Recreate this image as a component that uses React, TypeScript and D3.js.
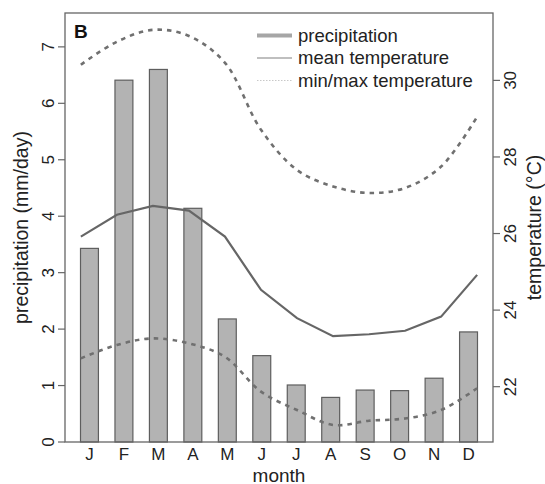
import React from 'react';
import * as d3 from 'd3';

const months = ['J', 'F', 'M', 'A', 'M', 'J', 'J', 'A', 'S', 'O', 'N', 'D'];
const precipitation = [3.43, 6.41, 6.6, 4.14, 2.18, 1.53, 1.01, 0.79, 0.92, 0.91, 1.13, 1.95];
const meanTemp = [25.92, 26.49, 26.72, 26.6, 25.92, 24.53, 23.79, 23.32, 23.37, 23.46, 23.83, 24.92];
const maxTemp = [30.41, 31.01, 31.32, 31.16, 30.46, 28.71, 27.66, 27.23, 27.06, 27.19, 27.75, 29.05];
const minTemp = [22.74, 23.09, 23.26, 23.13, 22.78, 21.87, 21.39, 21.0, 21.11, 21.17, 21.39, 21.96];
const precipTicks = [0, 1, 2, 3, 4, 5, 6, 7];
const tempTicks = [22, 24, 26, 28, 30];
const legendItems = ['precipitation', 'mean temperature', 'min/max temperature'];

const W = 545;
const H = 484;
const margin = { top: 13, right: 52, bottom: 42, left: 65 };
const FONT = 'Liberation Sans, Arial, Helvetica, sans-serif';

export default function App() {
  const x0 = margin.left;
  const x1 = W - margin.right;
  const y0 = H - margin.bottom;
  const y1 = margin.top;

  const xBand = d3.scaleBand<number>()
    .domain(d3.range(12))
    .range([x0, x1])
    .paddingInner(0.48)
    .paddingOuter(0.45);

  // month index (1..12) for the temperature overlay, R-style 4% padding
  const xLine = d3.scaleLinear().domain([0.56, 12.44]).range([x0, x1]);

  const yP = d3.scaleLinear().domain([0, 7.6]).range([y0, y1]);
  const yT = d3.scaleLinear().domain([20.555, 31.76]).range([y0, y1]);

  const line = d3.line<number>()
    .x((_, i) => xLine(i + 1))
    .y(d => yT(d));
  const smooth = d3.line<number>()
    .x((_, i) => xLine(i + 1))
    .y(d => yT(d))
    .curve(d3.curveCatmullRom.alpha(0.5));

  const textColor = '#222';
  const dash = '4.5,5';

  return (
    <svg width={W} height={H} style={{ position: 'absolute', left: 0, top: 0, display: 'block', background: '#fff' }}
      fontFamily={FONT}>
      {/* bars */}
      {precipitation.map((v, i) => (
        <rect key={i}
          x={xBand(i)} y={yP(v)}
          width={xBand.bandwidth()} height={yP(0) - yP(v)}
          fill="#b3b3b3" stroke="#5e5e5e" strokeWidth={1.2} />
      ))}

      {/* temperature lines */}
      <path d={line(meanTemp) || ''} fill="none" stroke="#666" strokeWidth={2.2} />
      <path d={smooth(maxTemp) || ''} fill="none" stroke="#707070" strokeWidth={2.6} strokeDasharray={dash} />
      <path d={smooth(minTemp) || ''} fill="none" stroke="#707070" strokeWidth={2.6} strokeDasharray={dash} />

      {/* box */}
      <rect x={x0} y={y1} width={x1 - x0} height={y0 - y1} fill="none" stroke="#666" strokeWidth={1.3} />

      {/* left axis */}
      {precipTicks.map(t => (
        <g key={t} transform={`translate(${x0},${yP(t)})`}>
          <line x1={0} x2={-7} stroke="#666" strokeWidth={1.2} />
          <text transform="translate(-11,0) rotate(-90)" textAnchor="middle" fontSize={17} fill={textColor}>{t}</text>
        </g>
      ))}
      <text transform={`translate(28,${(y0 + y1) / 2}) rotate(-90)`} textAnchor="middle" fontSize={19.5} fill={textColor}>
        precipitation (mm/day)
      </text>

      {/* right axis */}
      {tempTicks.map(t => (
        <g key={t} transform={`translate(${x1},${yT(t)})`}>
          <line x1={0} x2={7} stroke="#666" strokeWidth={1.2} />
          <text transform="translate(23,0) rotate(-90)" textAnchor="middle" fontSize={17} fill={textColor}>{t}</text>
        </g>
      ))}
      <text transform={`translate(541,${(y0 + y1) / 2}) rotate(-90)`} textAnchor="middle" fontSize={19.5} fill={textColor}>
        temperature (°C)
      </text>

      {/* month labels */}
      {months.map((m, i) => (
        <text key={i} x={xBand(i)! + xBand.bandwidth() / 2} y={460} textAnchor="middle" fontSize={17} fill={textColor}>{m}</text>
      ))}
      <text x={(x0 + x1) / 2} y={481.5} textAnchor="middle" fontSize={19} fill={textColor}>month</text>

      {/* panel letter */}
      <text x={74} y={38} fontSize={19} fontWeight="bold" fill="#111">B</text>

      {/* legend */}
      {legendItems.map((label, i) => {
        const base = 41.5 + i * 22.5;
        return (
          <g key={label}>
            {i === 0 && <line x1={257} x2={292} y1={base - 6} y2={base - 6} stroke="#a6a6a6" strokeWidth={4} />}
            {i === 1 && <line x1={257} x2={292} y1={base - 6} y2={base - 6} stroke="#aaa" strokeWidth={1.5} />}
            {i === 2 && <line x1={257} x2={292} y1={base - 6} y2={base - 6} stroke="#c8c8c8" strokeWidth={1} strokeDasharray="1.5,1.5" />}
            <text x={298} y={base} fontSize={18.5} fill={textColor}>{label}</text>
          </g>
        );
      })}
    </svg>
  );
}
